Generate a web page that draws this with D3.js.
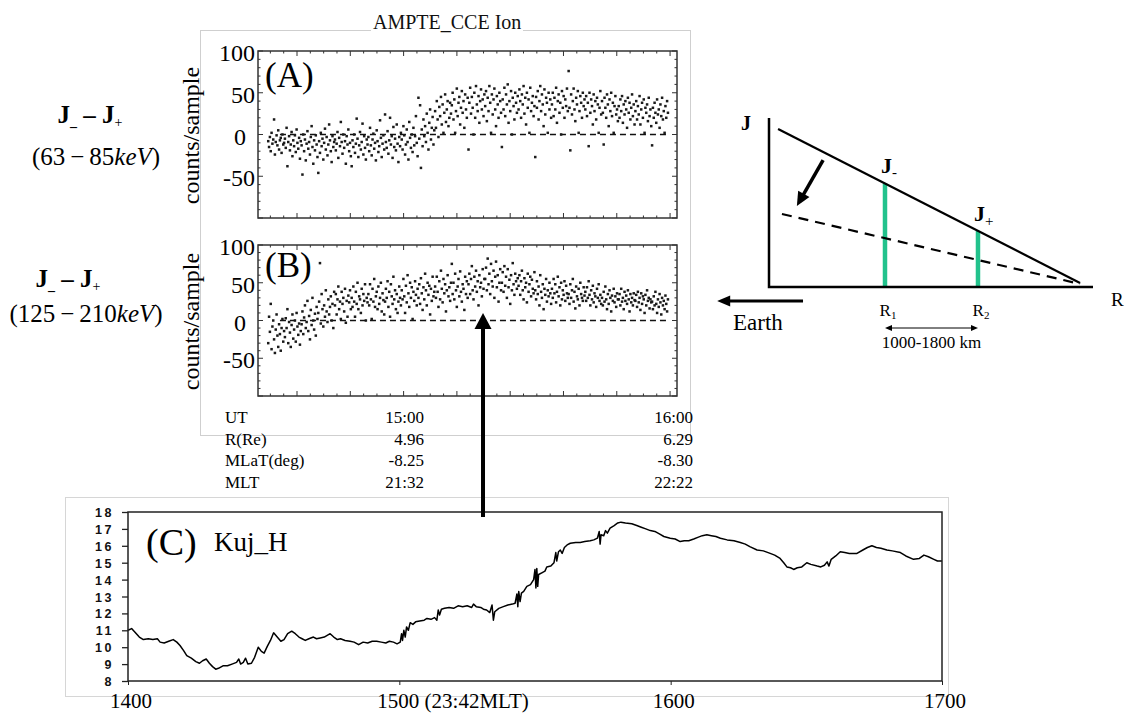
<!DOCTYPE html>
<html><head><meta charset="utf-8">
<script src="https://cdn.jsdelivr.net/npm/d3@7"></script>
<style>body{margin:0;background:#fff}svg{display:block}</style>
</head><body><svg id="c" width="1129" height="715"></svg>
<script>
// ---------------- DATA ----------------
// Panel A: J- - J+ (63-85 keV), counts/sample, evenly spaced samples
const ionA = [
-8,-15,-3,-20,2,-11,-6,18,-24,-9,-1,-13,5,-18,-7,-4,-22,0,-12,-10,
-5,-16,8,-38,-9,-2,-19,-12,3,-26,-7,-14,-1,-21,6,-10,-17,-4,-29,-8,
-13,-48,0,-20,-6,-31,-11,4,-17,-9,-24,-3,10,-15,-35,-7,-19,-1,-12,-27,
-46,-8,-22,2,-14,-5,-30,-10,7,-18,-3,-25,-12,12,-7,-20,-33,-2,-15,-9,
-6,-19,-11,3,-28,-4,-14,15,-9,-23,0,-16,-8,-35,-2,-12,6,-20,-10,-26,
-38,-7,-15,0,-22,-11,19,-5,-27,-13,3,-18,-9,13,-24,-2,-16,-30,-6,-12,
-3,-20,8,-13,-25,-6,1,-17,-10,-31,5,-8,-21,-14,17,-4,-27,-11,-1,-18,
24,-9,-16,4,-23,-7,20,-12,-2,-28,9,-15,-5,-19,12,-11,-33,-3,-14,2,
-6,-18,10,-1,-24,-12,6,-9,-30,15,-4,-16,0,-21,8,-13,-2,22,-10,-26,
44,-5,35,-40,6,-14,18,-2,10,-9,25,2,-18,14,30,-6,8,21,-12,5,
28,8,40,18,-3,33,22,45,12,36,2,26,48,15,30,40,10,20,38,25,
35,50,18,42,2,28,55,22,38,45,12,32,52,26,40,8,48,30,20,44,
-18,38,56,25,45,32,0,50,20,58,36,28,46,14,40,54,30,42,22,48,
34,52,16,44,28,58,38,2,48,24,42,55,30,10,46,36,20,50,40,26,
-15,42,30,56,22,48,36,60,14,40,28,52,0,44,34,18,50,38,26,46,
30,54,40,20,48,36,58,25,44,12,50,32,42,2,56,28,38,46,22,34,
-27,45,32,52,18,40,58,28,48,36,10,54,24,44,38,2,50,30,42,20,
36,50,22,44,30,56,14,40,48,26,38,0,52,32,46,20,42,34,55,28,
76,32,-19,48,24,40,55,30,16,44,36,52,2,28,46,38,20,50,34,42,
30,46,22,38,-14,50,26,42,34,12,48,28,40,18,44,36,2,32,52,24,
40,26,-12,44,32,20,48,36,10,42,28,50,22,38,2,34,46,24,30,16,
34,20,42,28,46,14,36,24,40,30,8,44,26,38,18,32,48,22,36,12,
28,40,18,34,24,46,12,30,38,20,42,2,32,26,36,16,44,22,30,10,
-13,32,20,38,26,14,42,24,30,8,36,22,44,18,28,2,34,20,40,26
];
// Panel B: J- - J+ (125-210 keV)
const ionB = [
-30,5,-15,22,-38,-8,0,-25,-43,-12,8,-20,-35,-5,-18,-40,-10,2,-28,-14,
-22,3,-10,15,-30,-2,-16,-35,-6,8,-24,-12,0,-28,10,-8,-19,-4,-32,-14,
-5,12,-18,4,20,-10,-2,26,-14,6,-25,14,-6,30,0,-12,9,-20,18,2,
10,25,76,-4,35,15,-8,20,5,40,12,-2,28,8,18,32,0,22,-10,38,
20,35,8,28,45,15,25,2,38,22,30,12,42,-3,26,5,33,24,40,15,
30,18,45,25,5,38,22,50,15,32,28,10,42,20,35,26,48,0,30,24,
35,20,48,28,2,42,25,55,18,32,38,15,45,22,30,50,12,36,27,8,
25,42,30,52,18,38,5,48,32,22,58,28,40,15,35,10,25,45,30,20,
40,28,55,32,10,46,24,60,36,18,50,30,44,2,38,26,52,34,20,42,
30,48,22,56,36,14,44,28,62,40,20,50,34,46,8,42,26,58,32,38,
45,30,58,38,18,52,28,66,42,24,55,36,48,12,40,60,32,44,26,50,
75,35,50,28,62,40,18,45,55,32,65,38,25,48,42,14,58,35,52,30,
48,62,35,55,72,40,28,58,45,66,38,52,20,60,44,50,32,68,42,55,
55,70,40,82,48,62,35,75,52,45,66,30,58,78,44,60,25,50,68,40,
50,64,38,72,46,58,30,68,44,54,22,60,40,76,48,34,62,52,42,56,
46,60,34,52,66,40,28,56,44,50,24,62,38,48,58,32,54,42,36,64,
40,28,52,35,45,20,60,38,30,48,15,42,34,55,25,40,32,50,36,22,
42,30,55,36,48,24,38,58,32,44,20,50,28,40,34,52,26,46,36,30,
35,22,48,30,40,55,25,38,16,45,32,28,42,20,50,35,30,26,44,33,
38,26,44,30,52,34,20,40,28,46,24,36,32,18,42,30,48,26,34,22,
30,20,38,25,45,28,15,35,22,40,30,12,33,26,42,24,32,18,36,28,
28,35,20,42,25,30,15,38,26,33,22,40,28,12,35,24,30,20,36,27,
26,34,18,38,24,30,14,36,22,32,28,10,34,20,40,26,30,16,28,24,
25,15,32,20,38,22,10,28,18,35,24,8,30,20,26,15,33,22,12,28
];
const ionXDomain = [-7.32, 71.3];        // minutes (panel time axis)
const sampleStartMin = -5.4;
const sampleEndMin = 69.6;
const zeroLineSpan = [-3.2, 69.6];
const ionXMajorStep = 10, ionXMinorStep = 2.5;
const ionYDomain = [-100, 100];
const ionYTicks = [100, 50, 0, -50];
const ionTitle = "AMPTE_CCE Ion";
const tableRows = [
  ["UT", "15:00", "16:00"],
  ["R(Re)", "4.96", "6.29"],
  ["MLaT(deg)", "-8.25", "-8.30"],
  ["MLT", "21:32", "22:22"]
];
// Panel C: Kuj H component, [minutes after 14:00, value]
const kujSamples = [
[0,11.0],[0.8,11.1],[1.5,10.9],[2.5,10.6],[3.4,10.45],[4.5,10.5],[5.5,10.45],[6.5,10.5],[7.1,10.3],[8,10.25],
[9,10.35],[10,10.45],[10.8,10.3],[11.5,10.1],[12.3,9.8],[13,9.5],[14,9.35],[15,9.15],[15.8,9.05],[16.5,9.2],
[17.3,9.3],[18,9.05],[18.7,8.85],[19.4,8.7],[20,8.75],[21,8.9],[22,8.9],[23,9.0],[24,9.1],[24.5,9.3],
[24.9,9.0],[25.5,9.1],[26,9.35],[26.5,9.0],[27.3,9.05],[28,9.4],[28.8,10.0],[29.5,9.75],[30.1,9.65],[30.8,10.05],
[31.5,10.4],[32.2,10.85],[33,10.6],[33.8,10.35],[34.5,10.45],[35.3,10.8],[36.2,10.95],[37,10.8],[37.8,10.6],[38.5,10.5],
[39.2,10.4],[40,10.5],[41,10.6],[41.7,10.5],[42.5,10.55],[43.4,10.6],[44.7,10.8],[45.5,10.6],[46.3,10.45],[47,10.5],
[48,10.4],[49.1,10.35],[50,10.3],[51,10.15],[52,10.3],[53,10.25],[54,10.35],[55,10.35],[56,10.3],[57,10.25],
[57.8,10.35],[58.7,10.3],[59.5,10.2],[60.2,10.3],[60.5,10.8],[60.7,10.4],[61,11.0],[61.3,10.6],[61.6,11.2],[62,11.0],
[62.4,11.45],[63,11.35],[63.6,11.5],[64.5,11.55],[65.5,11.6],[66.1,11.7],[67,11.65],[67.8,11.75],[68.3,11.6],[68.6,12.2],
[68.9,11.9],[69.3,12.25],[70,12.3],[71,12.35],[72,12.3],[73,12.45],[74,12.4],[75,12.45],[76,12.35],[76.4,12.55],
[77,12.4],[78,12.35],[78.6,12.25],[79.3,12.2],[80,12.05],[80.5,12.5],[80.8,11.6],[81.1,12.1],[82,12.3],[83,12.4],
[84,12.5],[85,12.55],[85.6,12.6],[86,13.15],[86.2,12.4],[86.4,13.3],[86.7,12.7],[87,13.2],[87.5,13.3],[88.2,13.6],
[89,13.7],[89.7,14.0],[90,14.6],[90.2,13.5],[90.4,14.65],[90.6,13.6],[90.8,14.3],[91.5,14.4],[92.2,14.5],[92.6,14.75],
[93.5,14.8],[94.2,15.0],[94.6,15.6],[94.8,15.1],[95.2,15.65],[95.6,15.75],[96,15.55],[96.5,15.9],[97.1,16.05],[97.8,16.15],
[99,16.2],[100,16.2],[101,16.25],[102.2,16.3],[103,16.35],[103.8,16.45],[104.2,16.85],[104.4,16.1],[104.6,16.65],[105.2,16.6],
[105.6,16.9],[106,16.75],[106.6,17.05],[107.5,17.2],[108.3,17.35],[109,17.4],[110,17.35],[111.4,17.3],[112.5,17.2],[113.5,17.1],
[114.5,17.0],[115.5,16.9],[116.5,16.85],[117.5,16.7],[118.5,16.55],[119.9,16.45],[121,16.4],[122.1,16.25],[123,16.3],[124,16.3],
[125.1,16.4],[126,16.5],[127,16.6],[128,16.65],[129,16.6],[130,16.55],[131,16.45],[132.5,16.35],[134,16.3],[135.4,16.2],
[136.5,16.1],[137.5,15.95],[139.1,15.75],[140.5,15.7],[142,15.55],[143,15.45],[144.2,15.25],[145,15.0],[145.7,14.75],[146.5,14.7],
[147.2,14.6],[148,14.7],[149,14.75],[150.1,15.0],[151,14.9],[152.4,14.8],[153.2,14.75],[154,14.85],[154.6,15.05],[155,14.8],
[155.5,15.2],[156.5,15.4],[157.5,15.65],[158.5,15.6],[159.5,15.55],[161.2,15.55],[162.5,15.75],[163.5,15.9],[164.5,16.0],[165.5,15.9],
[166.5,15.85],[167.8,15.75],[169,15.7],[170.8,15.6],[172,15.4],[173.7,15.2],[175,15.25],[176,15.45],[177,15.35],[178.2,15.2],
[179,15.1],[180,15.1]
];
const kujXDomain = [0, 180];
const kujYDomain = [8, 18];
const kujYTicks = [8,9,10,11,12,13,14,15,16,17,18];
const kujXTicks = [0, 60, 120, 180];
const kujXLabels = ["1400", "1500 (23:42MLT)", "1600", "1700"];
// Arrow linking panel B (time, value) to panel C (value)
const linkArrow = { ionMin: 34.9, ionVal: 10, kujVal: 17.7 };
// Schematic (normalised R, J)
const schemSolid = [{r:0.028, j:0.935}, {r:0.96, j:0.024}];
const schemDashed = [{r:0.04, j:0.432}, {r:0.96, j:0.018}];
const schemBars = [{r:0.358, name:"R", sub:"1", jsub:"-"}, {r:0.645, name:"R", sub:"2", jsub:"+"}];
const schemShiftArrow = [{r:0.167, j:0.751}, {r:0.086, j:0.479}];
const schemEarthArrow = [{r:0.105, j:-0.083}, {r:-0.16, j:-0.083}];
const schemSpanLabel = "1000-1800 km";

// ---------------- DRAW ----------------
const svg = d3.select('#c');
const SERIF = '"Liberation Serif","Times New Roman",serif';
const SANS = '"Liberation Sans",Arial,sans-serif';

svg.append('rect').attr('width',1129).attr('height',715).attr('fill','#fff');

// light composition frames
svg.append('rect').attr('x',200.5).attr('y',30.5).attr('width',490).attr('height',405)
  .attr('fill','none').attr('stroke','#cfcfcf');
svg.append('rect').attr('x',65.5).attr('y',497.5).attr('width',883).attr('height',199)
  .attr('fill','none').attr('stroke','#d6d6d6');

// title
svg.append('rect').attr('x',371).attr('y',10).attr('width',152).attr('height',24).attr('fill','#fff');
svg.append('text').attr('x',373).attr('y',29).attr('font-family',SERIF).attr('font-size',20)
  .attr('fill','#111').text(ionTitle);

function arrow(g, x1, y1, x2, y2, w, hl, hw, color) {
  const dx = x2-x1, dy = y2-y1, len = Math.hypot(dx,dy), ux = dx/len, uy = dy/len;
  const bx = x2-ux*hl, by = y2-uy*hl;
  g.append('line').attr('x1',x1).attr('y1',y1).attr('x2',bx+ux*2).attr('y2',by+uy*2)
    .attr('stroke',color).attr('stroke-width',w);
  g.append('path').attr('d',`M${x2},${y2}L${bx-uy*hw/2},${by+ux*hw/2}L${bx+uy*hw/2},${by-ux*hw/2}Z`)
    .attr('fill',color);
}

function ionPanel(data, box, tag, tagDy) {
  const g = svg.append('g');
  const x = d3.scaleLinear().domain(ionXDomain).range([box.l, box.r]);
  const y = d3.scaleLinear().domain(ionYDomain).range([box.b, box.t]);
  const step = (sampleEndMin - sampleStartMin) / (data.length - 1);
  // zero line
  g.append('line').attr('x1',x(zeroLineSpan[0])).attr('x2',x(zeroLineSpan[1]))
    .attr('y1',y(0)).attr('y2',y(0)).attr('stroke','#111').attr('stroke-width',1.5)
    .attr('stroke-dasharray','6,4');
  // points
  g.selectAll('rect.pt').data(data).join('rect').attr('class','pt')
    .attr('x',(d,i)=>x(sampleStartMin + i*step)-1.25).attr('y',d=>y(d)-1.25)
    .attr('width',2.5).attr('height',2.5).attr('fill','#1a1a1a');
  // frame
  g.append('rect').attr('x',box.l).attr('y',box.t).attr('width',box.r-box.l).attr('height',box.b-box.t)
    .attr('fill','none').attr('stroke','#333').attr('stroke-width',1.5);
  // x ticks
  d3.range(-7.5, 72, ionXMinorStep).filter(v=>v>=ionXDomain[0]&&v<=ionXDomain[1]).forEach(v=>{
    const L = (Math.abs(v % ionXMajorStep) < 1e-9) ? 5 : 2.5;
    g.append('line').attr('x1',x(v)).attr('x2',x(v)).attr('y1',box.b).attr('y2',box.b-L).attr('stroke','#333');
    g.append('line').attr('x1',x(v)).attr('x2',x(v)).attr('y1',box.t).attr('y2',box.t+L).attr('stroke','#333');
  });
  // y ticks
  d3.range(-100, 101, 10).forEach(v=>{
    const L = (v % 50 === 0) ? 5 : 2.5;
    g.append('line').attr('x1',box.l).attr('x2',box.l+L).attr('y1',y(v)).attr('y2',y(v)).attr('stroke','#333');
    g.append('line').attr('x1',box.r).attr('x2',box.r-L).attr('y1',y(v)).attr('y2',y(v)).attr('stroke','#333');
  });
  // y labels
  const ag = g.append('g').attr('transform',`translate(${box.l},0)`)
    .call(d3.axisLeft(y).tickValues(ionYTicks).tickSize(0).tickPadding(3).tickFormat(d=>String(d)));
  ag.select('.domain').remove();
  ag.selectAll('text').attr('font-family',SERIF).attr('font-size',24).attr('fill','#000')
    .attr('dy','0.40em').attr('dx', d => d === 0 ? -9 : 0);
  // panel tag
  g.append('text').attr('x',box.l+7).attr('y',box.t+tagDy).attr('font-family',SERIF)
    .attr('font-size',35).attr('fill','#000').text(tag);
  // y title
  g.append('text').attr('transform',`translate(199,${(box.t+box.b)/2+1}) rotate(-90)`)
    .attr('text-anchor','middle').attr('font-family',SERIF).attr('font-size',24).attr('fill','#000')
    .text('counts/sample');
  return {x, y};
}

const pA = ionPanel(ionA, {l:258, r:677, t:51, b:218}, '(A)', 36);
const pB = ionPanel(ionB, {l:258, r:677, t:245, b:396}, '(B)', 32);

// table under panel B
const tbl = svg.append('g').attr('font-family',SERIF).attr('font-size',17).attr('fill','#000');
tableRows.forEach((row, i) => {
  const yb = 423 + i*21.7;
  tbl.append('text').attr('x',225).attr('y',yb).text(row[0]);
  tbl.append('text').attr('x',424).attr('y',yb).attr('text-anchor','end').text(row[1]);
  tbl.append('text').attr('x',693).attr('y',yb).attr('text-anchor','end').text(row[2]);
});

// left side labels
function jLabel(cx, by) {
  const t = svg.append('text').attr('x',cx).attr('y',by).attr('text-anchor','middle')
    .attr('font-family',SERIF).attr('font-size',25).attr('font-weight','bold').attr('fill','#000');
  t.append('tspan').text('J');
  t.append('tspan').attr('font-size',14).attr('dy',3).text('_');
  t.append('tspan').attr('dy',-3).text(' \u2013 ');
  t.append('tspan').text('J');
  t.append('tspan').attr('font-size',14).attr('dy',4).attr('font-weight','normal').text('+');
}
function rangeLabel(cx, by, a, b) {
  const t = svg.append('text').attr('x',cx).attr('y',by).attr('text-anchor','middle')
    .attr('font-family',SERIF).attr('font-size',25).attr('fill','#000');
  t.append('tspan').text('(' + a + '\u2009\u2212\u2009' + b);
  t.append('tspan').attr('font-style','italic').text('keV');
  t.append('tspan').text(')');
}
jLabel(90, 123);
rangeLabel(96, 165, '63', '85');
jLabel(68, 287);
rangeLabel(86, 322, '125', '210');

// panel C
const cx = d3.scaleLinear().domain(kujXDomain).range([128, 942]);
const cy = d3.scaleLinear().domain(kujYDomain).range([681, 512]);
const gC = svg.append('g');
gC.append('path').datum(kujSamples)
  .attr('d', d3.line().x(d=>cx(d[0])).y(d=>cy(d[1])))
  .attr('fill','none').attr('stroke','#000').attr('stroke-width',1.5).attr('stroke-linejoin','round');
gC.append('rect').attr('x',128).attr('y',512).attr('width',942-128).attr('height',681-512)
  .attr('fill','none').attr('stroke','#222').attr('stroke-width',1.5);
const ayC = gC.append('g').attr('transform','translate(128,0)')
  .call(d3.axisLeft(cy).tickValues(kujYTicks).tickSize(6).tickPadding(8).tickFormat(d=>String(d)));
ayC.select('.domain').remove();
ayC.selectAll('line').attr('stroke','#222').attr('stroke-width',1.3);
ayC.selectAll('text').attr('font-family',SANS).attr('font-weight','bold').attr('font-size',12.5)
  .attr('letter-spacing','2.5px').attr('fill','#111').attr('dy','0.36em');
const axC = gC.append('g').attr('transform','translate(0,681)')
  .call(d3.axisBottom(cx).tickValues(kujXTicks).tickSize(4).tickFormat(''));
axC.select('.domain').remove();
axC.selectAll('line').attr('stroke','#222');
kujXTicks.forEach((t, i) => {
  const lab = kujXLabels[i];
  const txt = gC.append('text').attr('y',708).attr('font-family',SERIF).attr('font-size',21).attr('fill','#000').text(lab);
  if (lab.length > 4) txt.attr('x', cx(t) - 22).attr('text-anchor','start');
  else txt.attr('x', cx(t) + 3).attr('text-anchor','middle');
});
gC.append('text').attr('x',146).attr('y',555).attr('font-family',SERIF).attr('font-size',38).attr('fill','#000').text('(C)');
gC.append('text').attr('x',214).attr('y',551).attr('font-family',SERIF).attr('font-size',27).attr('fill','#000').text('Kuj_H');

// linking arrow
arrow(svg, pB.x(linkArrow.ionMin), cy(linkArrow.kujVal), pB.x(linkArrow.ionMin), pB.y(linkArrow.ionVal), 4, 16, 17, '#000');

// schematic
const sx = d3.scaleLinear().domain([0,1]).range([769, 1093]);
const sy = d3.scaleLinear().domain([0,1]).range([287, 118]);
const gS = svg.append('g');
const solidJ = r => schemSolid[0].j + (r - schemSolid[0].r) * (schemSolid[1].j - schemSolid[0].j) / (schemSolid[1].r - schemSolid[0].r);
schemBars.forEach(b => {
  gS.append('line').attr('x1',sx(b.r)).attr('x2',sx(b.r)).attr('y1',sy(0)).attr('y2',sy(solidJ(b.r)))
    .attr('stroke','#22c28c').attr('stroke-width',4.5);
});
gS.append('path').attr('d',`M${sx(0)},${sy(1)}L${sx(0)},${sy(0)}L${sx(1)},${sy(0)}`)
  .attr('fill','none').attr('stroke','#000').attr('stroke-width',2.5);
const sline = d3.line().x(d=>sx(d.r)).y(d=>sy(d.j));
gS.append('path').attr('d',sline(schemSolid)).attr('stroke','#000').attr('stroke-width',2.2).attr('fill','none');
gS.append('path').attr('d',sline(schemDashed)).attr('stroke','#000').attr('stroke-width',2.2)
  .attr('fill','none').attr('stroke-dasharray','10,7');
arrow(gS, sx(schemShiftArrow[0].r), sy(schemShiftArrow[0].j), sx(schemShiftArrow[1].r), sy(schemShiftArrow[1].j), 3.5, 14, 13, '#000');
arrow(gS, sx(schemEarthArrow[0].r), sy(schemEarthArrow[0].j), sx(schemEarthArrow[1].r), sy(schemEarthArrow[1].j), 3, 13, 11, '#000');
gS.append('text').attr('x',733).attr('y',330).attr('font-family',SERIF).attr('font-size',23).attr('fill','#000').text('Earth');
gS.append('text').attr('x',741).attr('y',130).attr('font-family',SERIF).attr('font-size',20).attr('font-weight','bold').attr('fill','#000').text('J');
gS.append('text').attr('x',1111).attr('y',306).attr('font-family',SERIF).attr('font-size',19).attr('fill','#000').text('R');
schemBars.forEach(b => {
  const jl = gS.append('text').attr('x',sx(b.r)-4).attr('y',sy(solidJ(b.r))-10)
    .attr('font-family',SERIF).attr('font-size',22).attr('font-weight','bold').attr('fill','#000');
  jl.append('tspan').text('J');
  jl.append('tspan').attr('font-size',15).attr('dy', b.jsub === '-' ? 4 : 5).attr('font-weight','normal').text(b.jsub);
  const rl = gS.append('text').attr('x',sx(b.r)+3).attr('y',316).attr('text-anchor','middle')
    .attr('font-family',SERIF).attr('font-size',17).attr('fill','#000');
  rl.append('tspan').text(b.name);
  rl.append('tspan').attr('font-size',11).attr('dy',3).text(b.sub);
});
// span double arrow
const spanY = 328;
gS.append('line').attr('x1',sx(schemBars[0].r)+4).attr('x2',sx(schemBars[1].r)-4).attr('y1',spanY).attr('y2',spanY)
  .attr('stroke','#000').attr('stroke-width',1);
[[schemBars[0].r, 1], [schemBars[1].r, -1]].forEach(([r, s]) => {
  const px = sx(r);
  gS.append('path').attr('d',`M${px},${spanY}L${px+s*7},${spanY-3}L${px+s*7},${spanY+3}Z`).attr('fill','#000');
});
gS.append('text').attr('x',(sx(schemBars[0].r)+sx(schemBars[1].r))/2).attr('y',348).attr('text-anchor','middle')
  .attr('font-family',SERIF).attr('font-size',17).attr('fill','#000').text(schemSpanLabel);
</script></body></html>
